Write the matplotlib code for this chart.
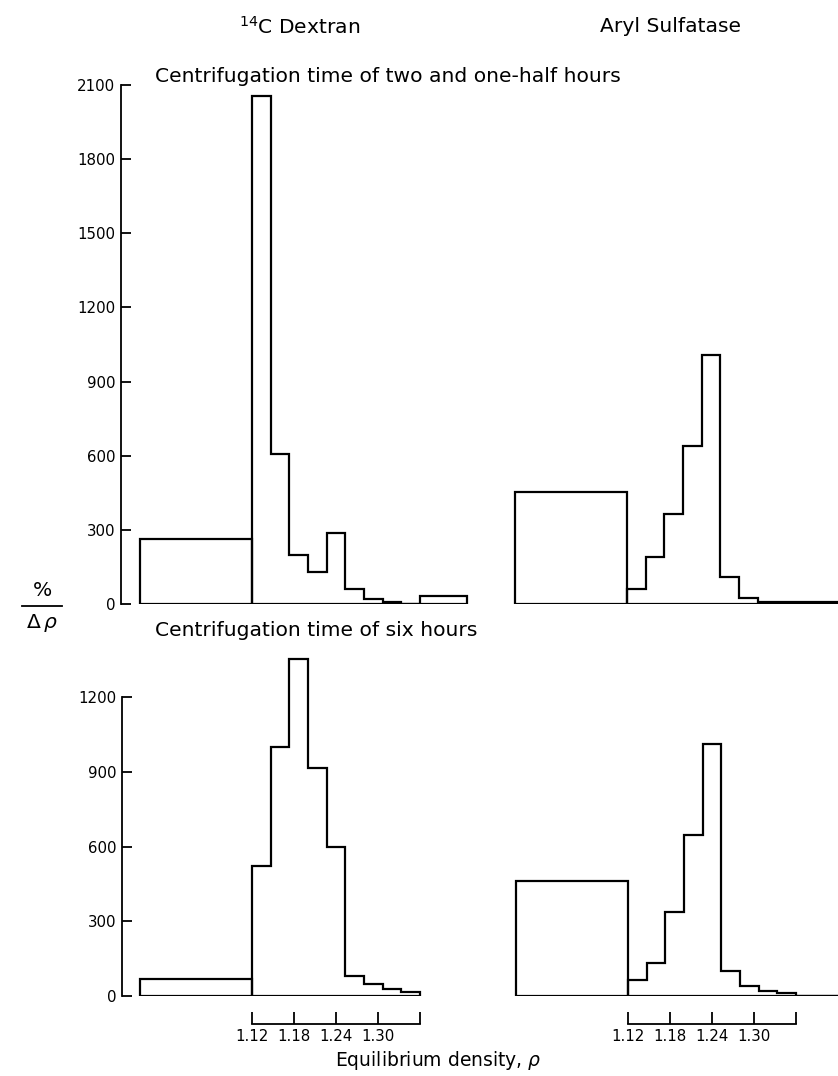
import matplotlib
matplotlib.use("Agg")
import matplotlib.pyplot as plt
from matplotlib.lines import Line2D

# Fraction boundaries in density: one light fraction, then narrow fractions
light_edges = [0.96, 1.12]
edges_top_left = [1.12, 1.147, 1.173, 1.20, 1.227, 1.253, 1.28, 1.307, 1.333, 1.36, 1.427]
edges_right = [1.12, 1.147, 1.173, 1.20, 1.227, 1.253, 1.28, 1.307, 1.333, 1.36, 1.46]
edges_bottom_left = [1.12, 1.147, 1.173, 1.20, 1.227, 1.253, 1.28, 1.307, 1.333, 1.36]

# 14C dextran, 2.5 h
dextran_2h_light = [263]
dextran_2h = [2055, 608, 198, 130, 288, 62, 20, 8, 0, 32]
# Aryl sulfatase, 2.5 h
aryl_2h_light = [452]
aryl_2h = [60, 190, 365, 640, 1008, 110, 24, 10, 8, 8]
# 14C dextran, 6 h
dextran_6h_light = [68]
dextran_6h = [524, 1000, 1352, 916, 598, 80, 50, 30, 18]
# Aryl sulfatase, 6 h
aryl_6h_light = [460]
aryl_6h = [66, 132, 336, 648, 1012, 100, 40, 22, 12, 0]

yticks_top = [0, 300, 600, 900, 1200, 1500, 1800, 2100]
yticks_bottom = [0, 300, 600, 900, 1200]
xticks = [1.12, 1.18, 1.24, 1.30, 1.36]
xtick_labels = ["1.12", "1.18", "1.24", "1.30", ""]

W, H = 838, 1076
fig = plt.figure(figsize=(W / 100, H / 100), dpi=100)
plt.rcParams["font.family"] = ["DejaVu Sans"]

PX_PER_UNIT = 700.0   # horizontal pixels per density unit
TICK_FS = 10.8
TITLE_FS = 14.6
LW = 1.6


def make_axes(x112_px, xleft_px, xright_px, ytop_px, ybase_px, ymax):
    """Axes whose x = 1.12 sits at x112_px and y = 0 at ybase_px."""
    xmin = 1.12 - (x112_px - xleft_px) / PX_PER_UNIT
    xmax = 1.12 + (xright_px - x112_px) / PX_PER_UNIT
    ax = fig.add_axes([xleft_px / W, 1 - ybase_px / H,
                       (xright_px - xleft_px) / W, (ybase_px - ytop_px) / H])
    ax.set_xlim(xmin, xmax)
    ax.set_ylim(0, ymax)
    ax.patch.set_visible(False)
    for s in ("top", "right", "bottom", "left"):
        ax.spines[s].set_visible(False)
    ax.set_xticks([])
    ax.set_yticks([])
    return ax


def draw_hist(ax, light, vals, edges):
    ax.stairs(light, light_edges, baseline=0, fill=False, color="black", lw=LW)
    ax.stairs(vals, edges, baseline=0, fill=False, color="black", lw=LW)
    ax.hlines(0, light_edges[0], edges[-1], color="black", lw=LW)


def yaxis(ax, ticks):
    ax.spines["left"].set_visible(True)
    ax.spines["left"].set_bounds(ticks[0], ticks[-1])
    ax.spines["left"].set_linewidth(1.3)
    ax.set_yticks(ticks)
    ax.set_yticklabels([str(t) for t in ticks], fontsize=TICK_FS)
    ax.tick_params(axis="y", direction="in", length=7.5, width=1.3, pad=4)


def xaxis(ax):
    ax.spines["bottom"].set_visible(True)
    ax.spines["bottom"].set_position(("outward", 20))
    ax.spines["bottom"].set_bounds(xticks[0], xticks[-1])
    ax.spines["bottom"].set_linewidth(1.3)
    ax.set_xticks(xticks)
    ax.set_xticklabels(xtick_labels, fontsize=TICK_FS)
    ax.tick_params(axis="x", direction="in", length=9, width=1.3, pad=4)


# Upper row: 2.5 h centrifugation
ax_tl = make_axes(252, 121, 480, 80, 604, 2120)
draw_hist(ax_tl, dextran_2h_light, dextran_2h, edges_top_left)
yaxis(ax_tl, yticks_top)

ax_tr = make_axes(627, 500, 900, 80, 604, 2120)
draw_hist(ax_tr, aryl_2h_light, aryl_2h, edges_right)

# Lower row: 6 h centrifugation
ax_bl = make_axes(252, 122, 480, 640, 996, 1430)
draw_hist(ax_bl, dextran_6h_light, dextran_6h, edges_bottom_left)
yaxis(ax_bl, yticks_bottom)
xaxis(ax_bl)

ax_br = make_axes(628, 500, 900, 640, 996, 1430)
draw_hist(ax_br, aryl_6h_light, aryl_6h, edges_right)
xaxis(ax_br)

# Column headings and row titles
fig.text(300 / W, 1 - 27 / H, r"$^{14}$C Dextran", ha="center", va="center", fontsize=TITLE_FS)
fig.text(670 / W, 1 - 26 / H, "Aryl Sulfatase", ha="center", va="center", fontsize=TITLE_FS)
fig.text(155 / W, 1 - 76 / H, "Centrifugation time of two and one-half hours",
         ha="left", va="center", fontsize=TITLE_FS)
fig.text(155 / W, 1 - 630 / H, "Centrifugation time of six hours",
         ha="left", va="center", fontsize=TITLE_FS)

# y-axis quantity written as a fraction
fig.text(42 / W, 1 - 590 / H, "%", ha="center", va="center", fontsize=TITLE_FS)
fig.add_artist(Line2D([22 / W, 62 / W], [1 - 606 / H, 1 - 606 / H],
                      color="black", lw=1.3, transform=fig.transFigure))
fig.text(42 / W, 1 - 623 / H, r"$\Delta\,\rho$", ha="center", va="center", fontsize=TITLE_FS)

fig.text(438 / W, 1 - 1060 / H, r"Equilibrium density, $\rho$",
         ha="center", va="center", fontsize=13.5)

fig.savefig("out.png", dpi=100)
